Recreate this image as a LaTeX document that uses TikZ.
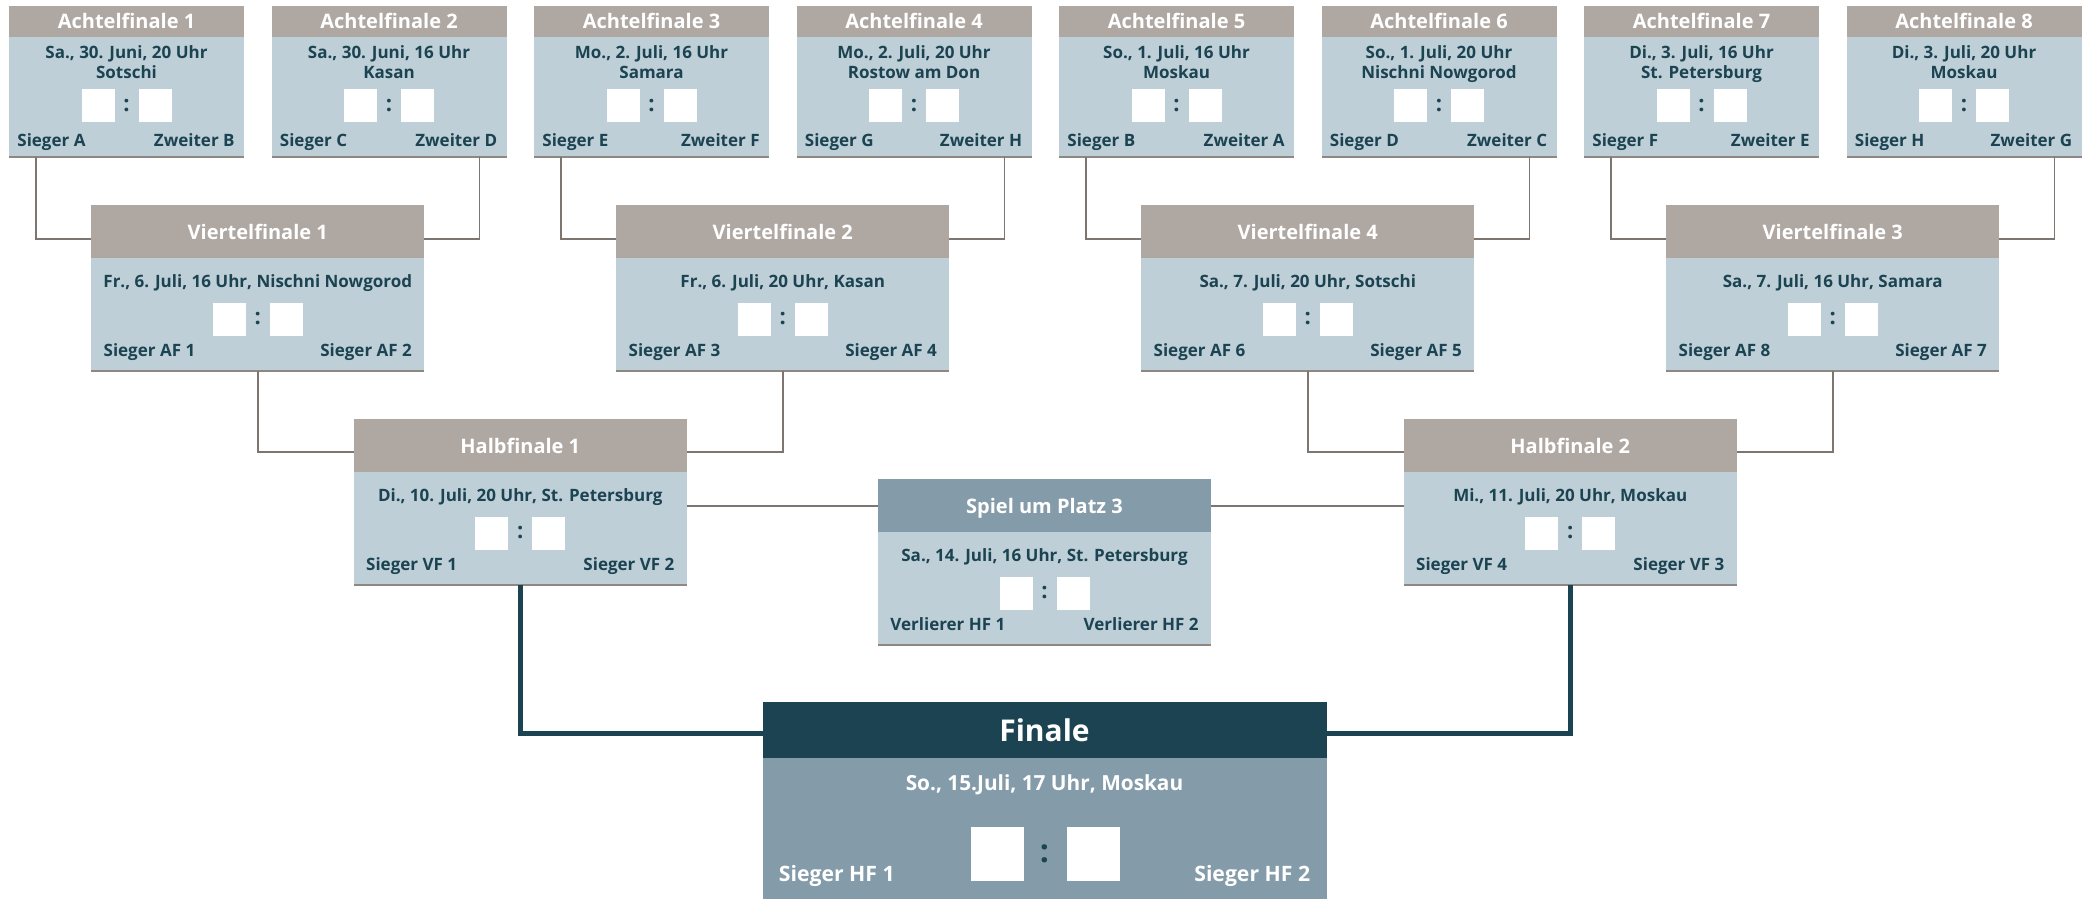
\documentclass[tikz,border=0pt]{standalone}
\usepackage{fontspec}
\setmainfont{Open Sans}
\usetikzlibrary{calc}
\definecolor{hdrc}{HTML}{AFA7A2}
\definecolor{bodyc}{HTML}{BECFD7}
\definecolor{ink}{HTML}{1B4351}
\definecolor{steel}{HTML}{849CA9}
\definecolor{connc}{HTML}{7D7670}
\definecolor{edgec}{HTML}{8E8782}

\newcommand\afMatch[7]{%
  \node[hdrbox, minimum width=117.5pt, minimum height=15.5pt, anchor=north west] (#1h) at (#2,6) {};
  \node[bodybox, minimum width=117.5pt, minimum height=60pt, anchor=north] (#1) at (#1h.south) {};
  \draw[edgeline] (#1.south west) -- (#1.south east);
  \node[hdrtxt, anchor=base] (#1t) at ($(#1h.center)+(0,7)$) {#3};
  \node[bodytxt, anchor=base] (#1d) at ($(#1.north)+(0,21.5)$) {#4};
  \node[bodytxt, anchor=base] (#1c) at ($(#1.north)+(0,41.5)$) {#5};
  \node[scorebox] (#1sa) at ($(#1.north)+(-28.5,68.5)$) {};
  \node[scorebox] (#1sb) at ($(#1.north)+(28.5,68.5)$) {};
  \node[colontxt] (#1k) at ($(#1.north)+(0,68.5)$) {:};
  \node[bodytxt, anchor=base west] (#1l) at ($(#1.north west)+(8,109.5)$) {#6};
  \node[bodytxt, anchor=base east] (#1r) at ($(#1.north east)+(-9,109.5)$) {#7};
}

\newcommand\koMatch[8]{%
  \node[hdrbox, fill=#4, minimum width=166.5pt, minimum height=26.5pt, anchor=north] (#1h) at (#2,#3) {};
  \node[bodybox, minimum width=166.5pt, minimum height=56.5pt, anchor=north] (#1) at (#1h.south) {};
  \draw[edgeline] (#1.south west) -- (#1.south east);
  \node[hdrtxt, anchor=base] (#1t) at ($(#1h.center)+(0,7.5)$) {#5};
  \node[bodytxt, anchor=base] (#1d) at ($(#1.north)+(0,29.5)$) {#6};
  \node[scorebox] (#1sa) at ($(#1.north)+(-28.5,61)$) {};
  \node[scorebox] (#1sb) at ($(#1.north)+(28.5,61)$) {};
  \node[colontxt] (#1k) at ($(#1.north)+(0,61)$) {:};
  \node[bodytxt, anchor=base west] (#1l) at ($(#1.north west)+(12,98.5)$) {#7};
  \node[bodytxt, anchor=base east] (#1r) at ($(#1.north east)+(-12,98.5)$) {#8};
}

\begin{document}
\begin{tikzpicture}[x=0.5pt,y=-0.5pt,
  hdrbox/.style={fill=hdrc, draw=none, inner sep=0pt, outer sep=0pt},
  bodybox/.style={fill=bodyc, draw=none, inner sep=0pt, outer sep=0pt},
  edgeline/.style={draw=edgec, line width=1pt},
  hdrtxt/.style={text=white, inner sep=0pt, font=\bfseries\fontsize{10}{12}\selectfont},
  bodytxt/.style={text=ink, inner sep=0pt, font=\bfseries\fontsize{8.5}{10}\selectfont},
  colontxt/.style={text=ink, inner sep=0pt, font=\bfseries\fontsize{11}{13}\selectfont},
  scorebox/.style={fill=white, draw=none, inner sep=0pt, minimum width=16.5pt, minimum height=16.5pt},
  thin/.style={draw=connc, line width=0.75pt},
  thick/.style={draw=ink, line width=2.5pt},
]
\useasboundingbox (0,0) rectangle (2089,899);

\afMatch{afa}{9}{Achtelfinale 1}{Sa., 30. Juni, 20 Uhr}{Sotschi}{Sieger A}{Zweiter B}
\afMatch{afb}{271.5}{Achtelfinale 2}{Sa., 30. Juni, 16 Uhr}{Kasan}{Sieger C}{Zweiter D}
\afMatch{afc}{534}{Achtelfinale 3}{Mo., 2. Juli, 16 Uhr}{Samara}{Sieger E}{Zweiter F}
\afMatch{afd}{796.5}{Achtelfinale 4}{Mo., 2. Juli, 20 Uhr}{Rostow am Don}{Sieger G}{Zweiter H}
\afMatch{afe}{1059}{Achtelfinale 5}{So., 1. Juli, 16 Uhr}{Moskau}{Sieger B}{Zweiter A}
\afMatch{aff}{1321.5}{Achtelfinale 6}{So., 1. Juli, 20 Uhr}{Nischni Nowgorod}{Sieger D}{Zweiter C}
\afMatch{afg}{1584}{Achtelfinale 7}{Di., 3. Juli, 16 Uhr}{St. Petersburg}{Sieger F}{Zweiter E}
\afMatch{afh}{1846.5}{Achtelfinale 8}{Di., 3. Juli, 20 Uhr}{Moskau}{Sieger H}{Zweiter G}

\koMatch{vfa}{257.75}{205}{hdrc}{Viertelfinale 1}{Fr., 6. Juli, 16 Uhr, Nischni Nowgorod}{Sieger AF 1}{Sieger AF 2}
\koMatch{vfb}{782.75}{205}{hdrc}{Viertelfinale 2}{Fr., 6. Juli, 20 Uhr, Kasan}{Sieger AF 3}{Sieger AF 4}
\koMatch{vfd}{1307.75}{205}{hdrc}{Viertelfinale 4}{Sa., 7. Juli, 20 Uhr, Sotschi}{Sieger AF 6}{Sieger AF 5}
\koMatch{vfc}{1832.75}{205}{hdrc}{Viertelfinale 3}{Sa., 7. Juli, 16 Uhr, Samara}{Sieger AF 8}{Sieger AF 7}

\koMatch{hfa}{520.25}{419}{hdrc}{Halbfinale 1}{Di., 10. Juli, 20 Uhr, St. Petersburg}{Sieger VF 1}{Sieger VF 2}
\koMatch{hfb}{1570.25}{419}{hdrc}{Halbfinale 2}{Mi., 11. Juli, 20 Uhr, Moskau}{Sieger VF 4}{Sieger VF 3}
\koMatch{pdr}{1044.5}{479}{steel}{Spiel um Platz 3}{Sa., 14. Juli, 16 Uhr, St. Petersburg}{Verlierer HF 1}{Verlierer HF 2}

% Finale
\node[hdrbox, fill=ink, minimum width=282pt, minimum height=28pt, anchor=north] (fih) at (1044.5,702) {};
\node[bodybox, fill=steel, minimum width=282pt, minimum height=71pt, anchor=north] (fin) at (fih.south) {};
\node[text=white, inner sep=0pt, anchor=base, font=\bfseries\fontsize{15}{18}\selectfont] (fit) at ($(fih.center)+(0,11)$) {Finale};
\node[text=white, inner sep=0pt, anchor=base, font=\bfseries\fontsize{10.4}{12}\selectfont] (fid) at ($(fin.north)+(0,32)$) {So., 15.Juli, 17 Uhr, Moskau};
\node[fill=white, inner sep=0pt, minimum width=26.5pt, minimum height=27pt] (fisa) at ($(fin.north)+(-47.5,96)$) {};
\node[fill=white, inner sep=0pt, minimum width=26.5pt, minimum height=27pt] (fisb) at ($(fin.north)+(48.5,96)$) {};
\node[text=ink, inner sep=0pt, font=\bfseries\fontsize{16}{18}\selectfont] (fik) at ($(fin.north)+(0,96)$) {:};
\node[text=white, inner sep=0pt, anchor=base west, font=\bfseries\fontsize{10.6}{12}\selectfont] (fil) at ($(fin.north west)+(16,123)$) {Sieger HF 1};
\node[text=white, inner sep=0pt, anchor=base east, font=\bfseries\fontsize{10.6}{12}\selectfont] (fir) at ($(fin.north east)+(-16,123)$) {Sieger HF 2};

% connectors AF -> VF
\draw[thin] ($(afa.south west)+(27,0)$) |- ($(vfa.north west)+(0,-19)$);
\draw[thin] ($(afb.south east)+(-27,0)$) |- ($(vfa.north east)+(0,-19)$);
\draw[thin] ($(afc.south west)+(27,0)$) |- ($(vfb.north west)+(0,-19)$);
\draw[thin] ($(afd.south east)+(-27,0)$) |- ($(vfb.north east)+(0,-19)$);
\draw[thin] ($(afe.south west)+(27,0)$) |- ($(vfd.north west)+(0,-19)$);
\draw[thin] ($(aff.south east)+(-27,0)$) |- ($(vfd.north east)+(0,-19)$);
\draw[thin] ($(afg.south west)+(27,0)$) |- ($(vfc.north west)+(0,-19)$);
\draw[thin] ($(afh.south east)+(-27,0)$) |- ($(vfc.north east)+(0,-19)$);
% VF -> HF
\draw[thin] (vfa.south) |- ($(hfa.north west)+(0,-20)$);
\draw[thin] (vfb.south) |- ($(hfa.north east)+(0,-20)$);
\draw[thin] (vfd.south) |- ($(hfb.north west)+(0,-20)$);
\draw[thin] (vfc.south) |- ($(hfb.north east)+(0,-20)$);
% HF -> Platz 3
\draw[thin] ($(pdrh.west)+(0,0.5)$) -- ($(hfa.east |- pdrh.west)+(0,0.5)$);
\draw[thin] ($(pdrh.east)+(0,0.5)$) -- ($(hfb.west |- pdrh.east)+(0,0.5)$);
% HF -> Finale
\draw[thick] (hfa.south) |- ($(fih.west)+(0,3.5)$);
\draw[thick] (hfb.south) |- ($(fih.east)+(0,3.5)$);
\end{tikzpicture}
\end{document}
